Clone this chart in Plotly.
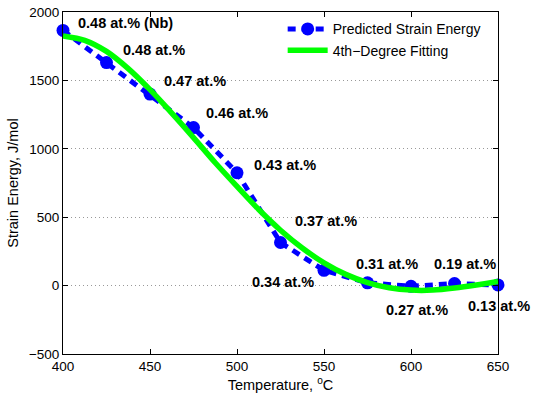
import plotly.graph_objects as go

# Data
temps = [400, 425, 450, 475, 500, 525, 550, 575, 600, 625, 650]
strain_energy = [1865, 1630, 1400, 1155, 825, 315, 112, 20, -5, 15, 5]

fit_temps = [400, 412.5, 425, 437.5, 450, 462.5, 475, 487.5, 500, 512.5, 525,
             537.5, 550, 562.5, 575, 587.5, 600, 612.5, 625, 637.5, 650]
fit_energy = [1825, 1793, 1712, 1586, 1432, 1261, 1082, 898, 725, 556, 405,
              275, 166, 82, 22, -16, -33, -33, -18, 4, 30]

labels = ["0.48 at.% (Nb)", "0.48 at.%", "0.47 at.%", "0.46 at.%", "0.43 at.%",
          "0.37 at.%", "0.34 at.%", "0.31 at.%", "0.19 at.%", "0.27 at.%", "0.13 at.%"]
label_x = [407.7, 433.6, 456.9, 481.0, 508.8, 532.2, 507.3, 567.1, 612.3, 584.5, 631.4]
label_y = [1919, 1724, 1497, 1261, 884, 470, 24, 161, 161, -175, -151]

x_ticks = [400, 450, 500, 550, 600, 650]
y_ticks = [-500, 0, 500, 1000, 1500, 2000]

FONT = "Liberation Sans, Arial, Helvetica, sans-serif"

fig = go.Figure()
fig.add_trace(go.Scatter(
    x=temps, y=strain_energy, mode="lines+markers",
    name="Predicted Strain Energy",
    line=dict(color="#0000ff", width=5, dash="8px,6px"),
    marker=dict(color="#0000ff", size=13, symbol="circle"),
    cliponaxis=False,
))
fig.add_trace(go.Scatter(
    x=fit_temps, y=fit_energy, mode="lines",
    name="4th\u2212Degree Fitting",
    line=dict(color="#00ff00", width=5.5, shape="spline", smoothing=0.8),
))

for t, lx, ly in zip(labels, label_x, label_y):
    fig.add_annotation(x=lx, y=ly, text="<b>%s</b>" % t, showarrow=False,
                       xanchor="left", yanchor="middle",
                       font=dict(family=FONT, size=14.5, color="black"))

axis_common = dict(
    showline=True, linecolor="black", linewidth=1, mirror="ticks",
    ticks="inside", ticklen=5, tickcolor="black", zeroline=False,
    tickfont=dict(family=FONT, size=13.5, color="black"),
)
fig.update_xaxes(range=[400, 650], tickvals=x_ticks, showgrid=False,
                 title=dict(text="Temperature, <sup>o</sup>C", standoff=6,
                            font=dict(family=FONT, size=14.5, color="black")),
                 **axis_common)
fig.update_yaxes(range=[-500, 2000], tickvals=y_ticks, showgrid=True,
                 gridcolor="#999999", griddash="1px,3px", gridwidth=1,
                 title=dict(text="Strain Energy, J/mol", standoff=6,
                            font=dict(family=FONT, size=14.5, color="black")),
                 **axis_common)

fig.update_layout(
    width=535, height=398,
    margin=dict(l=63, r=37, t=12, b=44, autoexpand=False),
    paper_bgcolor="white", plot_bgcolor="white",
    showlegend=True,
    legend=dict(x=0.505, y=0.996, xanchor="left", yanchor="top",
                bgcolor="rgba(255,255,255,0)", borderwidth=0,
                font=dict(family=FONT, size=14, color="black"),
                tracegroupgap=0, itemwidth=40),
)

fig.write_html("out.html")
